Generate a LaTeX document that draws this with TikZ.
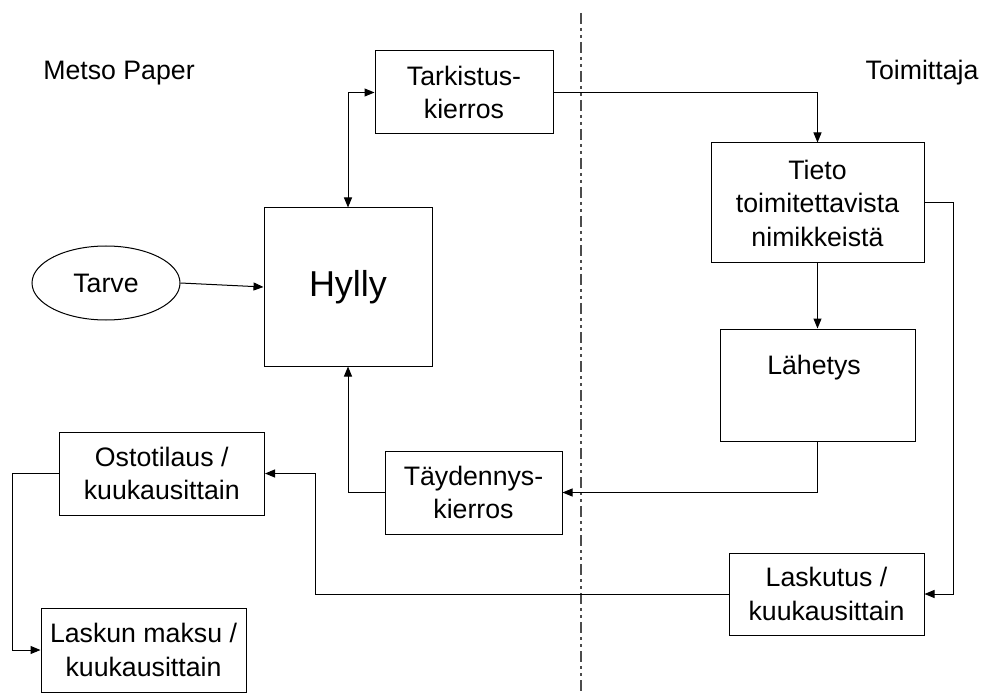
\documentclass[tikz,border=0pt]{standalone}
\usepackage{fontspec}
\setmainfont{Liberation Sans}
\usetikzlibrary{arrows.meta,calc,shapes.geometric}

\begin{document}
\begin{tikzpicture}[x=1pt,y=-1pt,
    every node/.style={font=\fontsize{26.7}{33.5}\selectfont},
    box/.style={draw, line width=1pt, inner sep=0pt, align=center},
    flow/.style={line width=1pt, -{Triangle[length=10pt,width=8pt]}},
    flowboth/.style={line width=1pt, {Triangle[length=10pt,width=8pt]}-{Triangle[length=10pt,width=8pt]}},
    divider/.style={line width=1.3pt, black!70,
        dash pattern=on 11pt off 4pt on 3pt off 4pt on 3pt off 4pt}]

  \useasboundingbox (0,0) rectangle (991,695);

  % side headings
  \node (metso) at (119,73) {Metso Paper};
  \node (toim) at (922,73) {Toimittaja};

  % dividing line between the two parties
  \coordinate (divtop) at (581,13);
  \coordinate (divbot) at (581,695);
  \draw[divider] (divtop) -- (divbot);

  % process boxes
  \node[box, minimum width=178pt, minimum height=83pt] (tark) at (464,92.5) {Tarkistus-\\kierros};
  \node[box, minimum width=213pt, minimum height=120pt] (tieto) at (817.5,203) {Tieto\\toimitettavista\\nimikkeistä};
  \node[box, minimum width=168pt, minimum height=158pt, font=\fontsize{36}{40}\selectfont] (hylly) at (348,287) {Hylly};
  \node[box, ellipse, minimum width=148pt, minimum height=74pt] (tarve) at (106,283) {Tarve};
  \node[box, minimum width=195pt, minimum height=112pt] (lah) at (817.5,385) {};
  \node (lahtxt) at (814,368) {Lähetys};
  \node[box, minimum width=177pt, minimum height=83pt] (tayd) at (473.5,492.5) {Täydennys-\\kierros};
  \node[box, minimum width=205.5pt, minimum height=83pt] (osto) at (161.75,473.5) {Ostotilaus /\\kuukausittain};
  \node[box, minimum width=195pt, minimum height=82pt] (lasku) at (826.5,594) {Laskutus /\\kuukausittain};
  \node[box, minimum width=205pt, minimum height=84pt] (maksu) at (143.5,650) {Laskun maksu /\\kuukausittain};

  % connectors
  \draw[flowboth] (hylly.north) |- (tark.west);
  \draw[flow] (tark.east) -| (tieto.north);
  \draw[flow] (tieto.south) -- (lah.north);
  \draw[flow] (tieto.east) -- ++(29,0) |- (lasku.east);
  \draw[flow] (lah.south) |- (tayd.east);
  \draw[flow] (tayd.west) -| (hylly.south);
  \draw[flow] (tarve.east) -- (hylly.west);
  \draw[flow] (lasku.west) -| ($(osto.east)+(50.5,0)$) -- (osto.east);
  \draw[flow] (osto.west) -- ++(-46,0) |- (maksu.west);
\end{tikzpicture}
\end{document}
